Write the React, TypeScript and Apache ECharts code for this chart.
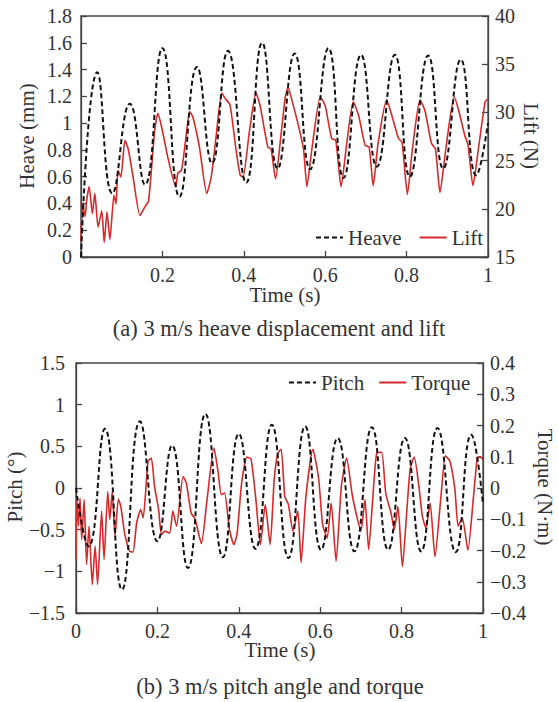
import React, { useEffect, useRef } from 'react';
import * as echarts from 'echarts';

// ---------- data ----------
const heaveT = [0, 0.04, 0.077, 0.12, 0.157, 0.2, 0.242, 0.285, 0.322, 0.361, 0.406, 0.445, 0.483, 0.525, 0.563, 0.608, 0.645, 0.688, 0.727, 0.771, 0.808, 0.853, 0.89, 0.933, 0.971, 1];
const heaveV = [0, 1.38, 0.475, 1.145, 0.54, 1.56, 0.45, 1.42, 0.7, 1.54, 0.555, 1.6, 0.66, 1.52, 0.655, 1.56, 0.59, 1.51, 0.675, 1.51, 0.6, 1.505, 0.66, 1.475, 0.61, 1.0];

const liftT = [0, 0.004, 0.01, 0.014, 0.02, 0.028, 0.034, 0.042, 0.051, 0.057, 0.064, 0.071, 0.081, 0.086, 0.091, 0.098, 0.108, 0.116, 0.128, 0.145, 0.157, 0.166, 0.181, 0.189, 0.2, 0.214, 0.233, 0.238, 0.247, 0.257, 0.267, 0.275, 0.291, 0.309, 0.32, 0.332, 0.346, 0.355, 0.366, 0.381, 0.391, 0.398, 0.414, 0.43, 0.44, 0.459, 0.467, 0.478, 0.491, 0.502, 0.509, 0.518, 0.535, 0.547, 0.555, 0.567, 0.588, 0.6, 0.616, 0.626, 0.639, 0.653, 0.669, 0.682, 0.698, 0.708, 0.718, 0.73, 0.751, 0.765, 0.78, 0.789, 0.802, 0.814, 0.833, 0.845, 0.861, 0.871, 0.882, 0.896, 0.917, 0.928, 0.943, 0.951, 0.963, 0.976, 0.993, 1];
const liftV = [16.6, 20.5, 19.2, 20.9, 22.3, 19.5, 21.6, 18.1, 19.8, 16.5, 19.7, 16.8, 21.4, 20.5, 24.0, 23.3, 27.1, 26.2, 23.3, 19.3, 20.2, 20.8, 28.1, 29.9, 28.1, 25.2, 22.3, 23.7, 24.0, 27.1, 30.1, 29.5, 26.4, 21.6, 23.3, 27.5, 32.0, 31.4, 30.8, 26.1, 23.5, 23.3, 28.1, 32.0, 30.7, 26.4, 26.2, 23.1, 27.5, 31.6, 32.6, 31.3, 28.5, 26.1, 22.3, 26.1, 31.6, 30.7, 27.3, 27.1, 22.3, 26.8, 31.1, 29.7, 26.6, 26.4, 22.4, 26.8, 31.3, 29.5, 27.3, 26.9, 21.5, 26.1, 31.3, 30.2, 26.8, 26.2, 21.7, 26.1, 31.6, 30.2, 27.6, 26.6, 22.4, 26.1, 31.1, 31.4];

const pitchT = [0, 0.031, 0.071, 0.113, 0.157, 0.2, 0.236, 0.275, 0.318, 0.361, 0.4, 0.441, 0.481, 0.522, 0.563, 0.602, 0.643, 0.684, 0.727, 0.767, 0.808, 0.848, 0.888, 0.933, 0.971, 1];
const pitchV = [0, -0.7, 0.71, -1.22, 0.8, -0.64, 0.51, -0.96, 0.89, -0.83, 0.65, -0.73, 0.76, -0.84, 0.74, -0.74, 0.6, -0.76, 0.73, -0.74, 0.6, -0.76, 0.72, -0.77, 0.64, -0.2];

const torqueT = [0, 0.002, 0.006, 0.01, 0.014, 0.02, 0.026, 0.032, 0.04, 0.047, 0.053, 0.063, 0.069, 0.078, 0.083, 0.089, 0.096, 0.104, 0.11, 0.12, 0.132, 0.14, 0.149, 0.159, 0.165, 0.177, 0.185, 0.193, 0.203, 0.21, 0.218, 0.23, 0.238, 0.247, 0.263, 0.271, 0.283, 0.293, 0.308, 0.322, 0.339, 0.349, 0.357, 0.365, 0.377, 0.388, 0.396, 0.407, 0.42, 0.43, 0.442, 0.453, 0.465, 0.477, 0.487, 0.496, 0.504, 0.513, 0.522, 0.533, 0.545, 0.553, 0.565, 0.582, 0.596, 0.606, 0.617, 0.627, 0.639, 0.652, 0.665, 0.678, 0.688, 0.7, 0.71, 0.719, 0.729, 0.739, 0.751, 0.761, 0.774, 0.782, 0.791, 0.802, 0.813, 0.821, 0.831, 0.843, 0.851, 0.86, 0.87, 0.882, 0.896, 0.908, 0.919, 0.931, 0.939, 0.949, 0.963, 0.976, 0.986, 0.993, 1];
const torqueV = [-0.229, -0.037, -0.122, -0.032, -0.165, -0.037, -0.245, -0.122, -0.309, -0.186, -0.309, -0.074, -0.229, -0.011, -0.101, -0.011, -0.154, -0.035, -0.059, -0.149, -0.202, -0.205, -0.112, -0.069, -0.096, 0.085, 0.096, 0.005, -0.069, -0.149, -0.138, -0.144, -0.074, -0.122, 0.037, 0.016, -0.08, -0.101, -0.178, -0.037, 0.128, 0.053, -0.021, -0.016, -0.133, -0.181, -0.144, 0.016, 0.099, 0.093, -0.037, -0.181, -0.053, -0.181, 0.027, 0.112, 0.124, -0.027, -0.053, -0.138, -0.074, -0.239, -0.027, 0.124, 0.032, -0.117, -0.16, -0.048, -0.234, 0.005, 0.096, -0.016, -0.08, -0.138, -0.037, -0.197, -0.037, 0.112, 0.114, -0.016, -0.08, -0.133, -0.059, -0.252, -0.069, 0.059, 0.099, 0.0, -0.09, -0.128, -0.048, -0.22, -0.037, 0.103, 0.085, -0.005, -0.122, -0.096, -0.199, -0.037, 0.096, 0.101, 0.09];

const timeRange = [0, 1, 0.2];
const heaveRange = [0, 1.8, 0.2];
const liftRange = [15, 40, 5];
const pitchRange = [-1.5, 1.5, 0.5];
const torqueRange = [-0.4, 0.4, 0.1];

const labelsText = {
  heave: 'Heave (mm)',
  lift: 'Lift (N)',
  time: 'Time (s)',
  capA: '(a) 3 m/s heave displacement and lift',
  pitch: 'Pitch (\u00B0)',
  torque: 'Torque (N\u00B7m)',
  capB: '(b) 3 m/s pitch angle and torque',
};

const FONT = '"Liberation Serif", "Times New Roman", serif';
const TXT = '#333333';
const AX = '#444444';
const RED = '#d42a2a';
const FS_TICK = 20;
const FS_NAME = 21;
const FS_CAP = 22.5;

export default function App() {
  const ref = useRef<HTMLDivElement>(null);
  useEffect(() => {
    const chart = echarts.init(ref.current as HTMLDivElement, null, { renderer: 'svg' });
    const zip = (t: number[], v: number[]) => t.map((x, i) => [x, v[i]]);
    const fmt = (v: number) => String(+(+v).toFixed(3)).replace('-', '\u2212');
    const axisBase = (pos: string, margin: number) => ({
      type: 'value',
      position: pos,
      axisLine: { show: true, onZero: false, lineStyle: { color: AX, width: 1.3 } },
      axisTick: { show: true, inside: true, length: 6, lineStyle: { color: AX, width: 1.3 } },
      splitLine: { show: false },
      axisLabel: { color: TXT, fontFamily: FONT, fontSize: FS_TICK, margin, formatter: fmt },
    });
    const txt = (text: string, x: number, y: number, size: number, rot = 0) => ({
      type: 'text',
      x,
      y,
      rotation: rot,
      style: { text, fill: TXT, font: `${size}px ${FONT}`, textAlign: 'center', textVerticalAlign: 'middle' },
    });
    const legendBase = {
      padding: 0,
      itemWidth: 27,
      itemHeight: 10,
      itemStyle: { opacity: 0 },
      textStyle: { color: TXT, fontFamily: FONT, fontSize: FS_NAME },
    };
    chart.setOption({
      animation: false,
      backgroundColor: '#fff',
      grid: [
        { left: 81, top: 16, width: 407, height: 241, show: true, borderColor: AX, borderWidth: 1.3 },
        { left: 76, top: 363, width: 407, height: 250, show: true, borderColor: AX, borderWidth: 1.3 },
      ],
      xAxis: [
        {
          ...axisBase('bottom', 8),
          gridIndex: 0,
          min: timeRange[0],
          max: timeRange[1],
          interval: timeRange[2],
          axisLabel: { color: TXT, fontFamily: FONT, fontSize: FS_TICK, margin: 8, formatter: (v: number) => (v === 0 ? '' : fmt(v)) },
        },
        { ...axisBase('bottom', 8), gridIndex: 1, min: timeRange[0], max: timeRange[1], interval: timeRange[2] },
      ],
      yAxis: [
        { ...axisBase('left', 9), gridIndex: 0, min: heaveRange[0], max: heaveRange[1], interval: heaveRange[2] },
        { ...axisBase('right', 7), gridIndex: 0, min: liftRange[0], max: liftRange[1], interval: liftRange[2] },
        { ...axisBase('left', 11), gridIndex: 1, min: pitchRange[0], max: pitchRange[1], interval: pitchRange[2] },
        { ...axisBase('right', 7), gridIndex: 1, min: torqueRange[0], max: torqueRange[1], interval: torqueRange[2] },
      ],
      legend: [
        { ...legendBase, data: ['Heave', 'Lift'], left: 315, top: 227, itemGap: 17 },
        { ...legendBase, data: ['Pitch', 'Torque'], left: 288, top: 372, itemGap: 14 },
      ],
      series: [
        {
          name: 'Heave',
          type: 'line',
          xAxisIndex: 0,
          yAxisIndex: 0,
          data: zip(heaveT, heaveV),
          smooth: 0.5,
          symbol: 'none',
          showSymbol: false,
          lineStyle: { color: '#111', width: 2, type: [5, 3] },
          itemStyle: { color: '#111' },
          z: 3,
        },
        {
          name: 'Lift',
          type: 'line',
          xAxisIndex: 0,
          yAxisIndex: 1,
          data: zip(liftT, liftV),
          smooth: 0.2,
          symbol: 'none',
          showSymbol: false,
          lineStyle: { color: RED, width: 1.6 },
          itemStyle: { color: RED },
          z: 2,
        },
        {
          name: 'Pitch',
          type: 'line',
          xAxisIndex: 1,
          yAxisIndex: 2,
          data: zip(pitchT, pitchV),
          smooth: 0.5,
          symbol: 'none',
          showSymbol: false,
          lineStyle: { color: '#111', width: 2, type: [5, 3] },
          itemStyle: { color: '#111' },
          z: 3,
        },
        {
          name: 'Torque',
          type: 'line',
          xAxisIndex: 1,
          yAxisIndex: 3,
          data: zip(torqueT, torqueV),
          smooth: 0.2,
          symbol: 'none',
          showSymbol: false,
          lineStyle: { color: RED, width: 1.6 },
          itemStyle: { color: RED },
          z: 2,
        },
      ],
      graphic: [
        txt(labelsText.heave, 27, 136, FS_NAME, Math.PI / 2),
        txt(labelsText.lift, 531, 136, FS_NAME, -Math.PI / 2),
        txt(labelsText.time, 285, 295, FS_NAME),
        txt(labelsText.capA, 279, 328, FS_CAP),
        txt(labelsText.pitch, 15, 487, FS_NAME, Math.PI / 2),
        txt(labelsText.torque, 545, 487, FS_NAME, -Math.PI / 2),
        txt(labelsText.time, 280, 650, FS_NAME),
        txt(labelsText.capB, 280, 686, FS_CAP),
      ],
    });
    return () => chart.dispose();
  }, []);
  return (
    <div
      ref={ref}
      style={{ position: 'absolute', left: 0, top: 0, width: 558, height: 702, background: '#fff' }}
    />
  );
}
